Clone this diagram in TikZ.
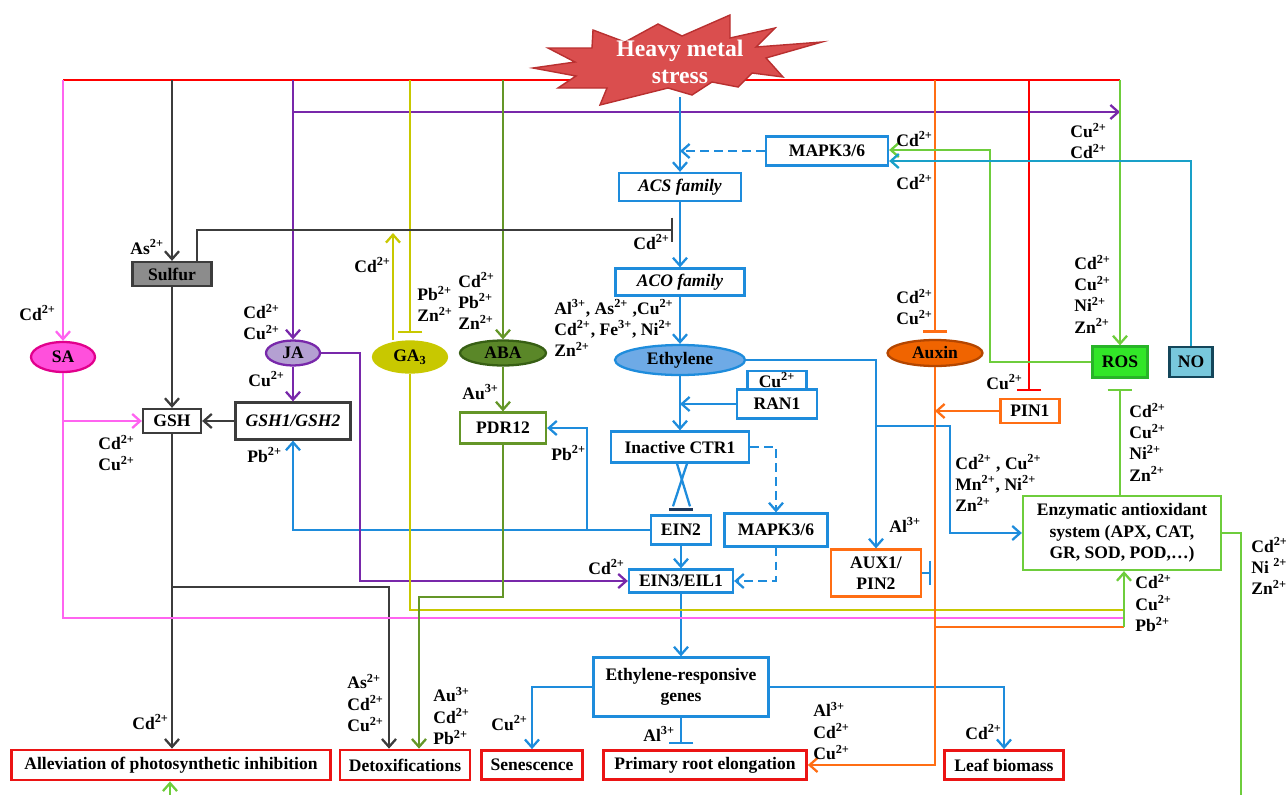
\documentclass[tikz,border=0pt]{standalone}
\usepackage{fontspec}
\setmainfont{Liberation Serif}
\usetikzlibrary{positioning,arrows.meta,shapes.geometric,backgrounds,calc}

\definecolor{hmred}{RGB}{255,0,0}
\definecolor{hmfill}{RGB}{218,78,78}
\definecolor{hmedge}{RGB}{185,48,48}
\definecolor{ethblue}{RGB}{30,140,220}
\definecolor{ethfill}{RGB}{110,170,230}
\definecolor{navybar}{RGB}{30,55,90}
\definecolor{sapink}{RGB}{255,100,240}
\definecolor{safill}{RGB}{255,80,220}
\definecolor{sadeep}{RGB}{225,0,140}
\definecolor{japurple}{RGB}{120,40,170}
\definecolor{jafill}{RGB}{180,160,210}
\definecolor{gayellow}{RGB}{200,200,0}
\definecolor{abagreen}{RGB}{100,150,40}
\definecolor{abafill}{RGB}{90,135,40}
\definecolor{abadeep}{RGB}{55,95,20}
\definecolor{gshgray}{RGB}{60,60,60}
\definecolor{sulfill}{RGB}{140,140,140}
\definecolor{auxorange}{RGB}{255,110,20}
\definecolor{auxfill}{RGB}{240,100,0}
\definecolor{auxdeep}{RGB}{180,70,0}
\definecolor{rosgreen}{RGB}{110,205,60}
\definecolor{rosfill}{RGB}{50,230,40}
\definecolor{rosdeep}{RGB}{40,180,40}
\definecolor{noteal}{RGB}{25,160,200}
\definecolor{nofill}{RGB}{120,200,220}
\definecolor{nodeep}{RGB}{20,70,90}
\definecolor{outred}{RGB}{235,20,20}

\newcommand{\metal}[2]{#1\textsuperscript{#2}}

\tikzset{
  box/.style={draw, line width=1.3pt, fill=white, inner sep=1pt, align=center},
  ebox/.style={box, draw=ethblue},
  obox/.style={box, draw=outred, line width=1.6pt},
  oval/.style={ellipse, draw, line width=1.3pt, inner sep=0pt},
  lbl/.style={inner sep=0pt, align=left, anchor=west},
  link/.style={line width=1.3pt},
  act/.style={-{Straight Barb[length=4.5pt,width=8pt]}},
  inh/.style={-{Bar[width=14pt]}},
  dashline/.style={dash pattern=on 5pt off 3pt},
}

\begin{document}
\begin{tikzpicture}[x=0.02cm, y=-0.02cm,
    every node/.append style={font=\fontsize{10}{12.1}\selectfont\bfseries}]
  \useasboundingbox (0,0) rectangle (1286,795);

  % Stress
  \node[text=white, align=center, minimum width=3cm, minimum height=1.4cm,
    font=\fontsize{13.5}{15.5}\selectfont\bfseries] (hms) at (680,62) {Heavy metal\\stress};

  % Ethylene pathway
  \node[ebox, minimum width=2.44cm, minimum height=0.58cm] (mapkA) at (827,151) {MAPK3/6};
  \node[ebox, minimum width=2.44cm, minimum height=0.56cm] (acs) at (680,187) {\itshape ACS family};
  \node[ebox, minimum width=2.58cm, minimum height=0.54cm] (aco) at (680,282) {\itshape ACO family};
  \node[oval, draw=ethblue, fill=ethfill, minimum width=2.6cm, minimum height=0.6cm] (eth) at (680,360) {Ethylene};
  \node[ebox, inner sep=0pt, minimum width=1.18cm, minimum height=0.36cm] (cu) at (777,380) {\metal{Cu}{2+}};
  \node[ebox, minimum width=1.6cm, minimum height=0.58cm] (ran) at (777,404) {RAN1};
  \node[ebox, minimum width=2.76cm, minimum height=0.62cm] (ctr) at (680,447) {Inactive CTR1};
  \node[ebox, minimum width=1.2cm, minimum height=0.58cm] (ein2) at (681,530) {EIN2};
  \node[ebox, minimum width=2.06cm, minimum height=0.66cm] (mapkB) at (776,530) {MAPK3/6};
  \node[ebox, minimum width=2.08cm, minimum height=0.46cm] (ein3) at (681,581) {EIN3/EIL1};
  \node[ebox, minimum width=3.5cm, minimum height=1.18cm] (erg) at (681,687) {Ethylene-responsive\\genes};

  % Outcomes
  \node[obox, minimum width=6.38cm, minimum height=0.6cm] (allev) at (171,765) {Alleviation of photosynthetic inhibition};
  \node[obox, minimum width=2.6cm, minimum height=0.6cm] (det) at (405,765) {Detoxifications};
  \node[obox, minimum width=2.02cm, minimum height=0.58cm] (sen) at (532,765) {Senescence};
  \node[obox, minimum width=4.06cm, minimum height=0.58cm] (pre) at (705,765) {Primary root elongation};
  \node[obox, minimum width=2.38cm, minimum height=0.58cm] (leaf) at (1004,765) {Leaf biomass};

  % Hormones and GSH
  \node[box, draw=gshgray, fill=sulfill, minimum width=1.58cm, minimum height=0.48cm] (sulfur) at (172,274) {Sulfur};
  \node[box, draw=gshgray, minimum width=1.16cm, minimum height=0.48cm] (gsh) at (172,421) {GSH};
  \node[box, draw=gshgray, minimum width=2.3cm, minimum height=0.74cm] (gshg) at (293,421) {\itshape GSH1/GSH2};
  \node[oval, draw=sadeep, fill=safill, minimum width=1.28cm, minimum height=0.6cm] (sa) at (63,357) {SA};
  \node[oval, draw=japurple, fill=jafill, minimum width=1.08cm, minimum height=0.5cm] (ja) at (293,353) {JA};
  \node[oval, draw=gayellow, fill=gayellow, minimum width=1.48cm, minimum height=0.62cm] (ga) at (410,357) {GA\textsubscript{3}};
  \node[oval, draw=abadeep, fill=abafill, minimum width=1.72cm, minimum height=0.5cm] (aba) at (503,353) {ABA};
  \node[box, draw=abagreen, minimum width=1.72cm, minimum height=0.62cm] (pdr) at (503,428) {PDR12};

  % Auxin, ROS
  \node[oval, draw=auxdeep, fill=auxfill, minimum width=1.9cm, minimum height=0.52cm] (auxin) at (935,353) {Auxin};
  \node[box, draw=auxorange, minimum width=1.18cm, minimum height=0.48cm] (pin) at (1030,411) {PIN1};
  \node[box, draw=auxorange, minimum width=1.8cm, minimum height=0.94cm] (aux) at (876,573) {AUX1/\\PIN2};
  \node[box, draw=rosdeep, fill=rosfill, minimum width=1.1cm, minimum height=0.62cm] (ros) at (1120,362) {ROS};
  \node[box, draw=nodeep, fill=nofill, minimum width=0.86cm, minimum height=0.6cm] (no) at (1191,362) {NO};
  \node[box, draw=rosgreen, minimum width=3.96cm, minimum height=1.48cm] (enz) at (1122,533) {Enzymatic antioxidant\\system (APX, CAT,\\GR, SOD, POD,\ldots)};

  % Bends and free ends
  \coordinate (busL) at (63,80);
  \coordinate (busR) at (1120,80);
  \coordinate (jaBus) at (293,112);
  \coordinate (acsInh) at (673,230);
  \coordinate (gaOut) at (393,233);
  \coordinate (pdrTap) at (587,530);
  \coordinate (preBar) at (681,744);
  \coordinate (enzTap) at (876,426);
  \coordinate (enzBend) at (950,426);
  \coordinate (auxBar) at (931,573);
  \coordinate (detTap) at (172,587);
  \coordinate (pdrLow) at (503,597);
  \coordinate (jaBend) at (360,353);
  \coordinate (enzYl) at (1124,610);
  \coordinate (enzPk) at (1124,618);
  \coordinate (auxOr) at (935,627);
  \coordinate (enzOr) at (1124,627);
  \coordinate (rosBar) at ([yshift=-0.2cm]ros.south);
  \coordinate (rosBend) at (990,150);
  \coordinate (loopR) at (1241,797);

  % Stress bus and burst
  \begin{pgfonlayer}{background}
    \draw[link, hmred] (busL) -- (busR);
    \filldraw[fill=hmfill, draw=hmedge, line width=0.8pt, line join=miter]
      (533,68) -- (575,62) -- (548,48) -- (592,48) -- (593,30) -- (625,42)
      -- (658,24) -- (682,36) -- (730,15) -- (730,38) -- (775,28) -- (756,47)
      -- (822,42) -- (766,58) -- (783,77) -- (752,73) -- (738,87) -- (712,82)
      -- (692,95) -- (668,88) -- (600,105) -- (607,88) -- (558,88) -- (576,76) -- cycle;
  \end{pgfonlayer}
  \draw[link, sapink, act] (busL) -- (sa);
  \draw[link, gshgray, act] (sulfur |- busL) -- (sulfur);
  \draw[link, japurple, act] (ja |- busL) -- (ja);
  \draw[link, japurple, act] (jaBus) -- (jaBus -| ros);
  \draw[link, gayellow, inh] (ga |- busL) -- ([yshift=4pt]ga.north);
  \draw[link, abagreen, act] (aba |- busL) -- (aba);
  \draw[link, auxorange, inh] (auxin |- busL) -- ([yshift=3.5pt]auxin.north);
  \draw[link, hmred, inh] ([xshift=-0.02cm]pin.north |- busL) -- ([xshift=-0.02cm,yshift=4pt]pin.north);
  \draw[link, rosgreen, act] (busR) -- (ros);

  % Ethylene signalling
  \draw[link, ethblue, act] (hms) -- (acs);
  \draw[link, ethblue, act] (acs) -- (aco);
  \draw[link, gshgray, inh] ([xshift=0.5cm]sulfur.north) |- (acsInh);
  \draw[link, ethblue, act] (aco) -- (eth);
  \draw[link, ethblue, act] (eth) -- (ctr);
  \draw[link, ethblue, act] (ran) -- (ran -| eth);
  \draw[link, ethblue, act, dashline] (mapkA) -- (mapkA -| acs);
  \draw[link, ethblue, act, dashline] (ctr) -| (mapkB);
  \draw[link, ethblue] ([xshift=-0.06cm]ctr.south) -- ([xshift=0.18cm,yshift=0.16cm]ein2.north);
  \draw[link, ethblue] ([xshift=0.14cm]ctr.south) -- ([xshift=-0.16cm,yshift=0.16cm]ein2.north);
  \draw[navybar, line width=1.6pt] ([xshift=-0.24cm,yshift=0.1cm]ein2.north) -- ([xshift=0.24cm,yshift=0.1cm]ein2.north);
  \draw[link, ethblue, act] (ein2) -- (ein3);
  \draw[link, ethblue, act, dashline] (mapkB) |- (ein3);
  \draw[link, ethblue, act] (ein2) -| (gshg);
  \draw[link, ethblue, act] (pdrTap) |- (pdr);
  \draw[link, ethblue, act] (ein3) -- (erg);
  \draw[link, ethblue, act] (erg) -| (sen);
  \draw[link, ethblue, inh] (erg) -- (preBar);
  \draw[link, ethblue, act] (erg) -| (leaf);
  \draw[link, ethblue, act] (eth) -| (aux);
  \draw[link, ethblue, act] (enzTap) -- (enzBend) |- (enz);
  \draw[link, ethblue, inh] (aux) -- (auxBar);

  % GSH and hormones
  \draw[link, gshgray, act] (sulfur) -- (gsh);
  \draw[link, gshgray, act] (gshg) -- (gsh);
  \draw[link, gshgray, act] (gsh) -- (gsh |- allev.north);
  \draw[link, gshgray, act] (detTap) -| ([xshift=-0.32cm]det.north);
  \draw[link, sapink, act] (sa |- gsh) -- (gsh);
  \draw[link, sapink] (sa) |- (enzPk);
  \draw[link, japurple, act] (ja) -- (gshg);
  \draw[link, japurple, act] (ja) -- (jaBend) |- (ein3);
  \draw[link, gayellow, act] (gaOut |- ga.north) -- (gaOut);
  \draw[link, gayellow] (ga) |- (enzYl);
  \draw[link, abagreen, act] (aba) -- (pdr);
  \draw[link, abagreen, act] (pdr) -- (pdrLow) -| ([xshift=0.28cm]det.north);

  % Auxin and ROS
  \draw[link, auxorange, act] (auxin) |- (pre);
  \draw[link, auxorange, act] (pin) -- (pin -| auxin);
  \draw[link, auxorange] (auxOr) -- (enzOr);
  \draw[link, rosgreen, act] (enzOr) -- (enz.south -| enzOr);
  \draw[link, rosgreen, inh] (enz.north -| rosBar) -- (rosBar);
  \draw[link, rosgreen, act] (ros) -| (rosBend) -- (rosBend -| mapkA.east);
  \draw[link, noteal, act] (no) |- ([yshift=-0.2cm]mapkA.east);
  \draw[link, rosgreen, act] (enz) -| (loopR) -| ([xshift=-0.02cm]allev.south);

  % Metal ions
  \node[lbl] (iSA) at (19,313) {\metal{Cd}{2+}};
  \node[lbl] (iSul) at (130,247) {\metal{As}{2+}};
  \node[lbl] (iJA) at (243,322) {\metal{Cd}{2+}\\\metal{Cu}{2+}};
  \node[lbl] (iGshg) at (248,379) {\metal{Cu}{2+}};
  \node[lbl] (iGsh) at (98,453) {\metal{Cd}{2+}\\\metal{Cu}{2+}};
  \node[lbl] (iPbG) at (247,455) {\metal{Pb}{2+}};
  \node[lbl] (iGaUp) at (354,265) {\metal{Cd}{2+}};
  \node[lbl] (iGa) at (417,304) {\metal{Pb}{2+}\\\metal{Zn}{2+}};
  \node[lbl] (iAba) at (458,301) {\metal{Cd}{2+}\\\metal{Pb}{2+}\\\metal{Zn}{2+}};
  \node[lbl] (iAcs) at (633,242) {\metal{Cd}{2+}};
  \node[lbl] (iAco) at (554,328) {\metal{Al}{3+}, \metal{As}{2+} ,\metal{Cu}{2+}\\\metal{Cd}{2+}, \metal{Fe}{3+}, \metal{Ni}{2+}\\\metal{Zn}{2+}};
  \node[lbl] (iPdr) at (462,392) {\metal{Au}{3+}};
  \node[lbl] (iPdrB) at (551,453) {\metal{Pb}{2+}};
  \node[lbl] (iMapkA) at (896,139) {\metal{Cd}{2+}};
  \node[lbl] (iMapkB) at (896,182) {\metal{Cd}{2+}};
  \node[lbl] (iPu) at (1070,141) {\metal{Cu}{2+}\\\metal{Cd}{2+}};
  \node[lbl] (iAuxin) at (896,307) {\metal{Cd}{2+}\\\metal{Cu}{2+}};
  \node[lbl] (iRos) at (1074,294) {\metal{Cd}{2+}\\\metal{Cu}{2+}\\\metal{Ni}{2+}\\\metal{Zn}{2+}};
  \node[lbl] (iPin) at (986,382) {\metal{Cu}{2+}};
  \node[lbl] (iEnzT) at (1129,442) {\metal{Cd}{2+}\\\metal{Cu}{2+}\\\metal{Ni}{2+}\\\metal{Zn}{2+}};
  \node[lbl] (iEnzL) at (955,483) {\metal{Cd}{2+} , \metal{Cu}{2+}\\\metal{Mn}{2+}, \metal{Ni}{2+}\\\metal{Zn}{2+}};
  \node[lbl] (iAux) at (889,525) {\metal{Al}{3+}};
  \node[lbl] (iLoop) at (1251,566) {\metal{Cd}{2+}\\Ni \textsuperscript{2+}\\\metal{Zn}{2+}};
  \node[lbl] (iEnzB) at (1135,603) {\metal{Cd}{2+}\\\metal{Cu}{2+}\\\metal{Pb}{2+}};
  \node[lbl] (iEin3) at (588,567) {\metal{Cd}{2+}};
  \node[lbl] (iSen) at (491,723) {\metal{Cu}{2+}};
  \node[lbl] (iPre) at (643,734) {\metal{Al}{3+}};
  \node[lbl] (iPreR) at (813,731) {\metal{Al}{3+}\\\metal{Cd}{2+}\\\metal{Cu}{2+}};
  \node[lbl] (iLeaf) at (965,732) {\metal{Cd}{2+}};
  \node[lbl] (iAllev) at (132,722) {\metal{Cd}{2+}};
  \node[lbl] (iDetA) at (347,703) {\metal{As}{2+}\\\metal{Cd}{2+}\\\metal{Cu}{2+}};
  \node[lbl] (iDetB) at (433,716) {\metal{Au}{3+}\\\metal{Cd}{2+}\\\metal{Pb}{2+}};
\end{tikzpicture}
\end{document}
